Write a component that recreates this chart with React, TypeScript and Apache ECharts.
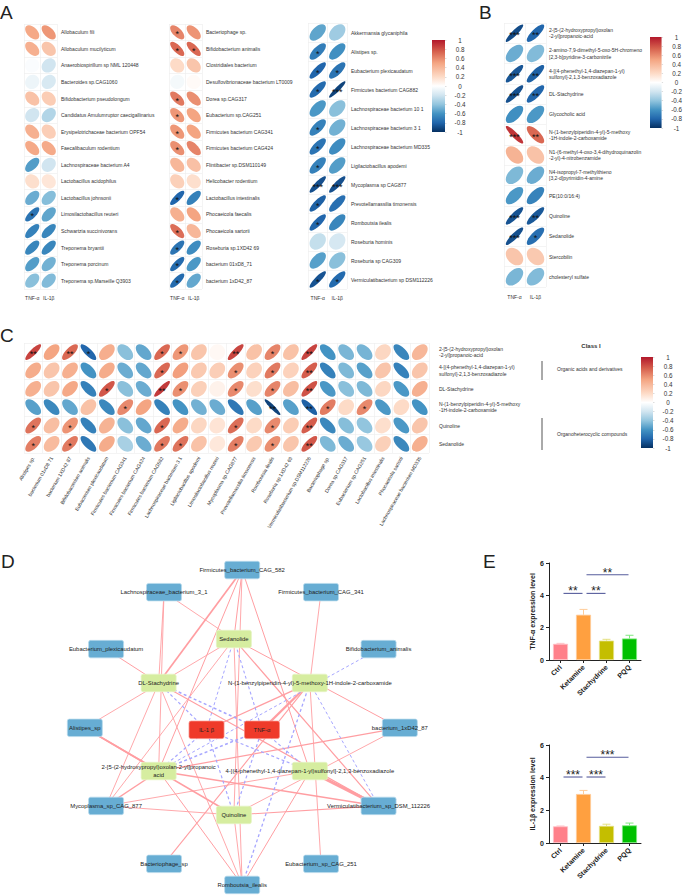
import React, { useEffect, useRef } from "react";
import * as echarts from "echarts";

const FONT = "Liberation Sans";

// ---------- Panel A ----------
const cytokines = ["TNF-α", "IL-1β"];
const a1Names = ["Allobaculum fili", "Allobaculum mucilyticum", "Anaerobiospirillum sp NML 120448", "Bacteroides sp.CAG1060", "Bifidobacterium pseudolongum", "Candidatus Amulumruptor caecigallinarius", "Erysipelotrichaceae bacterium OPF54", "Faecalibaculum rodentium", "Lachnospiraceae bacterium A4", "Lactobacillus acidophilus", "Lactobacillus johnsonii", "Limosilactobacillus reuteri", "Schwartzia succinivorans", "Treponema bryantii", "Treponema porcinum", "Treponema sp.Marseille Q3903"];
const a1Tnf = [0.48, 0.44, -0.02, -0.08, 0.34, -0.2, 0.44, 0.48, -0.56, 0.18, -0.5, -0.74, -0.68, -0.66, -0.56, -0.42];
const a1Il = [0.55, 0.32, -0.2, -0.17, 0.28, -0.3, 0.27, 0.47, -0.2, 0.14, -0.43, -0.53, -0.66, -0.66, -0.48, -0.44];
const a1TnfStars = [0, 0, 0, 0, 0, 0, 0, 0, 0, 0, 0, 1, 0, 0, 0, 0];
const a1IlStars = [0, 0, 0, 0, 0, 0, 0, 0, 0, 0, 0, 0, 0, 0, 0, 0];

const a2Names = ["Bacteriophage sp.", "Bifidobacterium animalis", "Clostridiales bacterium", "Desulfovibrionaceae bacterium LT0009", "Dorea sp.CAG317", "Eubacterium sp.CAG251", "Firmicutes bacterium CAG341", "Firmicutes bacterium CAG424", "Flintibacter sp.DSM110149", "Helicobacter rodentium", "Lactobacillus intestinalis", "Phocaeicola faecalis", "Phocaeicola sartorii", "Roseburia sp.1XD42 69", "bacterium 01xD8_71", "bacterium 1xD42_87"];
const a2Tnf = [0.62, 0.72, 0.2, -0.05, 0.66, 0.55, 0.55, 0.58, 0.4, 0.26, -0.8, 0.44, 0.7, -0.74, -0.78, -0.78];
const a2Il = [0.56, 0.72, 0.32, 0.03, 0.58, 0.5, 0.5, 0.62, 0.35, 0.18, -0.68, 0.5, 0.4, -0.63, -0.58, -0.52];
const a2TnfStars = [1, 1, 0, 0, 1, 1, 1, 1, 0, 0, 1, 0, 1, 1, 1, 1];
const a2IlStars = [0, 1, 0, 0, 0, 0, 0, 0, 0, 0, 0, 0, 0, 0, 0, 0];

const a3Names = ["Akkermansia glycaniphila", "Alistipes sp.", "Eubacterium plexicaudatum", "Firmicutes bacterium CAG882", "Lachnospiraceae bacterium 10 1", "Lachnospiraceae bacterium 3 1", "Lachnospiraceae bacterium MD335", "Ligilactobacillus apodemi", "Mycoplasma sp CAG877", "Prevotellamassilia timonensis", "Romboutsia ilealis", "Roseburia hominis", "Roseburia sp CAG309", "Vermiculatibacterium sp DSM112226"];
const a3Tnf = [-0.53, -0.7, -0.8, -0.78, -0.58, -0.68, -0.74, -0.68, -0.88, -0.82, -0.8, -0.24, -0.55, -0.87];
const a3Il = [-0.36, -0.62, -0.74, -0.93, -0.42, -0.48, -0.63, -0.56, -0.88, -0.76, -0.66, -0.18, -0.42, -0.78];
const a3TnfStars = [0, 1, 1, 1, 0, 1, 1, 1, 3, 1, 1, 0, 0, 1];
const a3IlStars = [0, 0, 1, 3, 0, 0, 0, 0, 3, 0, 0, 0, 0, 1];

// ---------- Panel B ----------
const bNames = ["2-[5-(2-hydroxypropyl)oxolan\n-2-yl]propanoic-acid", "2-amino-7,9-dimethyl-5-oxo-5H-chromeno\n[2,3-b]pyridine-3-carbonitrile", "4-[(4-phenethyl-1,4-diazepan-1-yl)\nsulfonyl]-2,1,3-benzoxadiazole", "DL-Stachydrine", "Glycocholic acid", "N-(1-benzylpiperidin-4-yl)-5-methoxy\n-1H-indole-2-carboxamide", "N1-(6-methyl-4-oxo-3,4-dihydroquinazolin\n-2-yl)-4-nitrobenzamide", "N4-isopropyl-7-methylthieno\n[3,2-d]pyrimidin-4-amine", "PE(10:0/16:4)", "Quinoline", "Sedanolide", "Stercobilin", "cholesteryl sulfate"];
const bTnf = [-0.9, -0.5, -0.86, -0.88, -0.62, 0.9, 0.42, -0.45, -0.58, -0.87, -0.88, 0.32, -0.46];
const bIl = [-0.8, -0.44, -0.82, -0.8, -0.58, 0.72, 0.34, -0.5, -0.67, -0.85, -0.76, 0.3, -0.44];
const bTnfStars = [3, 0, 3, 3, 0, 3, 0, 0, 0, 3, 3, 0, 0];
const bIlStars = [2, 0, 2, 2, 0, 2, 0, 0, 0, 2, 1, 0, 0];

// ---------- Panel C ----------
const cCols = ["Alistipes sp.", "bacterium 01xD8 71", "bacterium 1XD42 87", "Bifidobacterium animalis", "Eubacterium plexicaudatum", "Firmicutes bacterium CAG341", "Firmicutes bacterium CAG424", "Firmicutes bacterium CAG582", "Lachnospiraceae bacterium 3 1", "Ligilactobacillus apodemi", "Limosilactobacillus reuteri", "Mycoplasma sp.CAG877", "Prevotellamassilia timonensis", "Romboutsia ilealis", "Roseburia sp.1XD42 69", "Vermiculatibacterium sp.DSM112226", "Bacteriophage sp.", "Dorea sp.CAG317", "Eubacterium sp.CAG251", "Lactobacillus intestinalis", "Phocaeicola sartorii", "Lachnospiraceae bacterium MD335"];
const cRows = ["2-[5-(2-hydroxypropyl)oxolan\n-2-yl]propanoic-acid", "4-[(4-phenethyl-1,4-diazepan-1-yl)\nsulfonyl]-2,1,3-benzoxadiazole", "DL-Stachydrine", "N-(1-benzylpiperidin-4-yl)-5-methoxy\n-1H-indole-2-carboxamide", "Quinoline", "Sedanolide"];
const cRow1 = [0.85, 0.5, 0.72, -0.8, 0.45, -0.42, -0.52, 0.72, 0.55, 0.32, 0.04, 0.84, 0.34, 0.62, 0.34, 0.85, -0.6, -0.46, -0.47, 0.22, -0.66, 0.4];
const cRow2 = [0.46, 0.32, 0.44, -0.6, 0.46, -0.5, -0.52, 0.72, 0.52, 0.3, 0.27, 0.58, 0.25, 0.66, 0.25, 0.76, -0.68, -0.45, -0.55, 0.32, -0.68, 0.32];
const cRow3 = [0.44, 0.32, 0.48, -0.68, 0.78, -0.42, -0.5, 0.88, 0.58, 0.26, 0.07, 0.6, 0.18, 0.62, 0.36, 0.8, -0.58, -0.42, -0.45, 0.22, -0.58, 0.44];
const cRow4 = [-0.55, -0.65, -0.52, 0.34, -0.65, 0.6, 0.5, -0.68, -0.6, -0.48, -0.5, -0.72, -0.55, -0.93, -0.55, -0.82, 0.65, 0.2, 0.6, -0.58, 0.2, -0.6];
const cRow5 = [0.68, 0.36, 0.56, -0.68, 0.42, -0.42, -0.52, 0.72, 0.46, 0.22, 0.15, 0.7, 0.2, 0.6, 0.28, 0.76, -0.65, -0.43, -0.4, 0.18, -0.58, 0.32];
const cRow6 = [0.64, 0.38, 0.66, -0.72, 0.46, -0.33, -0.5, 0.66, 0.68, 0.34, 0.13, 0.64, 0.3, 0.58, 0.32, 0.78, -0.45, -0.5, -0.38, 0.26, -0.65, 0.44];
const cStars1 = [2, 0, 2, 1, 0, 0, 0, 1, 1, 0, 0, 2, 0, 1, 0, 2, 0, 0, 0, 0, 0, 0];
const cStars2 = [0, 0, 0, 0, 0, 0, 0, 1, 0, 0, 0, 1, 0, 1, 0, 2, 0, 0, 0, 0, 0, 0];
const cStars3 = [0, 0, 0, 0, 1, 0, 0, 2, 1, 0, 0, 1, 0, 1, 0, 2, 0, 0, 0, 0, 0, 0];
const cStars4 = [0, 0, 0, 0, 0, 1, 0, 0, 0, 0, 0, 0, 0, 2, 0, 2, 1, 0, 1, 0, 0, 0];
const cStars5 = [1, 0, 1, 0, 0, 0, 0, 1, 0, 0, 0, 1, 0, 1, 0, 2, 0, 0, 0, 0, 0, 0];
const cStars6 = [1, 0, 1, 0, 0, 0, 0, 1, 1, 0, 0, 1, 0, 1, 0, 2, 0, 0, 0, 0, 0, 0];

// ---------- Panel D ----------
const metaboliteNames = ["Sedanolide", "DL-Stachydrine", "N-(1-benzylpiperidin-4-yl)-5-methoxy-1H-indole-2-carboxamide", "2-[5-(2-hydroxypropyl)oxolan-2-yl]propanoic\nacid", "4-[(4-phenethyl-1,4-diazepan-1-yl)sulfonyl]-2,1,3-benzoxadiazole", "Quinoline"];
const metaboliteX = [48.3, 27.4, 69.4, 27.4, 69.4, 48.3];
const metaboliteY = [23.6, 36.7, 36.7, 63, 63, 76.1];
const bacteriaNames = ["Firmicutes_bacterium_CAG_582", "Lachnospiraceae_bacterium_3_1", "Firmicutes_bacterium_CAG_341", "Eubacterium_plexicaudatum", "Bifidobacterium_animalis", "Alistipes_sp", "bacterium_1xD42_87", "Mycoplasma_sp_CAG_877", "Vermiculatibacterium_sp_DSM_112226", "Bacteriophage_sp", "Eubacterium_sp_CAG_251", "Romboutsia_ilealis"];
const bacteriaX = [50.6, 28.9, 72.5, 12.8, 88.5, 6.9, 94.4, 12.8, 88.5, 28.9, 72.5, 50.6];
const bacteriaY = [3, 9.6, 9.6, 26.6, 26.6, 50.1, 50.1, 73.4, 73.4, 90.7, 90.7, 97];
const cytokineNames = ["IL-1 β", "TNF-α"];
const cytokineX = [40.7, 56.1];
const cytokineY = [50.7, 50.7];
// [metabolite index, partner name, weight]
const positiveEdges: [number, string, number][] = [
  [3, "Alistipes_sp", 1.8], [3, "bacterium_1xD42_87", 1.2], [3, "Firmicutes_bacterium_CAG_582", 1], [3, "Lachnospiraceae_bacterium_3_1", 0.9], [3, "Mycoplasma_sp_CAG_877", 1.3], [3, "Romboutsia_ilealis", 1], [3, "Vermiculatibacterium_sp_DSM_112226", 1.5],
  [4, "Firmicutes_bacterium_CAG_582", 1], [4, "Mycoplasma_sp_CAG_877", 0.9], [4, "Romboutsia_ilealis", 1], [4, "Vermiculatibacterium_sp_DSM_112226", 3],
  [1, "Eubacterium_plexicaudatum", 1], [1, "Firmicutes_bacterium_CAG_582", 1.7], [1, "Lachnospiraceae_bacterium_3_1", 0.9], [1, "Mycoplasma_sp_CAG_877", 0.9], [1, "Romboutsia_ilealis", 0.9], [1, "Vermiculatibacterium_sp_DSM_112226", 1.2],
  [2, "Firmicutes_bacterium_CAG_341", 0.9], [2, "Bacteriophage_sp", 1.1], [2, "Eubacterium_sp_CAG_251", 0.9],
  [5, "Alistipes_sp", 1.6], [5, "bacterium_1xD42_87", 0.9], [5, "Firmicutes_bacterium_CAG_582", 0.9], [5, "Mycoplasma_sp_CAG_877", 0.9], [5, "Romboutsia_ilealis", 0.9], [5, "Vermiculatibacterium_sp_DSM_112226", 1.1],
  [0, "Alistipes_sp", 0.9], [0, "bacterium_1xD42_87", 1], [0, "Firmicutes_bacterium_CAG_582", 1], [0, "Lachnospiraceae_bacterium_3_1", 0.9], [0, "Mycoplasma_sp_CAG_877", 0.9], [0, "Romboutsia_ilealis", 0.9], [0, "Vermiculatibacterium_sp_DSM_112226", 1.2],
  [2, "IL-1 β", 1.3], [2, "TNF-α", 2.2],
];
const negativeEdges: [number, string, number][] = [
  [3, "Bifidobacterium_animalis", 1], [2, "Romboutsia_ilealis", 1.3], [2, "Vermiculatibacterium_sp_DSM_112226", 1],
  [0, "IL-1 β", 1], [0, "TNF-α", 1.1], [1, "IL-1 β", 1.2], [1, "TNF-α", 1.5], [3, "IL-1 β", 1.2], [3, "TNF-α", 1.5], [4, "IL-1 β", 1.2], [4, "TNF-α", 1.1], [5, "IL-1 β", 1.2], [5, "TNF-α", 1.2],
];

// ---------- Panel E ----------
const groups = ["Ctrl", "Ketamine", "Stachydrine", "PQQ"];
const barColors = ["#FF808A", "#FFA040", "#C4BE00", "#00C000"];
const barEdgeColors = ["#FFC0C6", "#FFCC99", "#E4E080", "#80E880"];
const tnfMean = [1.0, 2.8, 1.2, 1.33];
const tnfUpper = [1.03, 3.13, 1.28, 1.53];
const ilMean = [1.02, 3.0, 1.05, 1.08];
const ilUpper = [1.04, 3.22, 1.15, 1.22];
// [from group, to group, value, stars]
const tnfBrackets: [number, number, number, string][] = [[0, 1, 4.12, "**"], [1, 2, 4.12, "**"], [1, 3, 5.27, "**"]];
const ilBrackets: [number, number, number, string][] = [[0, 1, 4.04, "***"], [1, 2, 4.04, "***"], [1, 3, 5.25, "***"]];

const colorStops: [number, string][] = [[-1, "#053061"], [-0.8, "#2166AC"], [-0.6, "#4393C3"], [-0.4, "#92C5DE"], [-0.2, "#D1E5F0"], [0, "#FFFFFF"], [0.2, "#FDDBC7"], [0.5, "#F4A582"], [0.75, "#D6604D"], [1, "#B2182B"]];

const NODE_SYMBOL = "path://M2 0H33A2 2 0 0 1 35 2V15.5A2 2 0 0 1 33 17.5H2A2 2 0 0 1 0 15.5V2A2 2 0 0 1 2 0Z";

function hexToRgb(h: string) {
  return [parseInt(h.slice(1, 3), 16), parseInt(h.slice(3, 5), 16), parseInt(h.slice(5, 7), 16)];
}
function ramp(v: number) {
  for (let i = 1; i < colorStops.length; i++) {
    if (v <= colorStops[i][0]) {
      const [a, ca] = colorStops[i - 1];
      const [b, cb] = colorStops[i];
      const t = (v - a) / (b - a);
      const A = hexToRgb(ca), B = hexToRgb(cb);
      return `rgb(${A.map((x, k) => Math.round(x + (B[k] - x) * t)).join(",")})`;
    }
  }
  return colorStops[colorStops.length - 1][1];
}

function buildOption() {
  const grid: any[] = [], xAxis: any[] = [], yAxis: any[] = [], series: any[] = [];
  const add = (g: any, x: any, y: any) => {
    grid.push({ ...g, containLabel: false });
    xAxis.push({ gridIndex: grid.length - 1, ...x });
    yAxis.push({ gridIndex: grid.length - 1, ...y });
    return grid.length - 1;
  };

  const corr = (box: number[], cols: string[], rows: string[], colVals: number[][], colStars: number[][], opts: any) => {
    const split = { show: true, interval: 0, lineStyle: { color: "#EDEDED", width: 0.6 } };
    const idx = add(
      { left: box[0], top: box[1], width: box[2], height: box[3] },
      { type: "category", data: cols, axisLine: { show: false }, axisTick: { show: false }, splitLine: split, axisLabel: { interval: 0, fontFamily: FONT, fontSize: 5, color: "#333", margin: opts.xMargin, rotate: opts.xRotate || 0 } },
      { type: "category", inverse: true, position: "right", data: rows, axisLine: { show: false }, axisTick: { show: false }, splitLine: split, axisLabel: { interval: 0, fontFamily: FONT, fontSize: 5, color: "#333", margin: opts.yMargin, lineHeight: 6.4 } }
    );
    const data: number[][] = [];
    colVals.forEach((vals, c) => vals.forEach((v, r) => data.push([c, r, v, colStars[c][r]])));
    series.push({
      type: "custom",
      xAxisIndex: idx,
      yAxisIndex: idx,
      clip: false,
      silent: true,
      encode: { x: 0, y: 1 },
      data,
      renderItem: (_: any, api: any) => {
        const p = api.coord([api.value(0), api.value(1)]);
        const size = api.size([1, 1]);
        const cell = Math.min(size[0], size[1]);
        const r = api.value(2);
        const m = Math.abs(r);
        const rx = cell * 0.43 * Math.sqrt(1 + m);
        const ry = cell * 0.43 * Math.sqrt(1 - m);
        const sign = (r > 0 ? -1 : 1) * opts.dir;
        const children: any[] = [
          { type: "ellipse", x: p[0], y: p[1], rotation: (sign * Math.PI) / 4, shape: { cx: 0, cy: 0, rx, ry }, style: { fill: ramp(r) } },
        ];
        const n = api.value(3);
        if (n > 0) {
          children.push({ type: "text", x: p[0], y: p[1] + 2, style: { text: "*".repeat(n), fontSize: 9, fontFamily: FONT, fill: "#111", align: "center", verticalAlign: "middle" } });
        }
        return { type: "group", children };
      },
    });
  };

  corr([24, 24, 33, 265], cytokines, a1Names, [a1Tnf, a1Il], [a1TnfStars, a1IlStars], { dir: 1, xMargin: 6, yMargin: 4 });
  corr([169, 24, 33, 265], cytokines, a2Names, [a2Tnf, a2Il], [a2TnfStars, a2IlStars], { dir: 1, xMargin: 6, yMargin: 4 });
  corr([308, 23, 39, 266], cytokines, a3Names, [a3Tnf, a3Il], [a3TnfStars, a3IlStars], { dir: 1, xMargin: 6, yMargin: 4 });
  corr([504, 23, 42, 264], cytokines, bNames, [bTnf, bIl], [bTnfStars, bIlStars], { dir: 1, xMargin: 7, yMargin: 3 });

  const cVals = cCols.map((_, c) => [cRow1[c], cRow2[c], cRow3[c], cRow4[c], cRow5[c], cRow6[c]]);
  const cStars = cCols.map((_, c) => [cStars1[c], cStars2[c], cStars3[c], cStars4[c], cStars5[c], cStars6[c]]);
  corr([24, 343, 405, 110], cCols, cRows, cVals, cStars, { dir: -1, xMargin: 4, xRotate: 60, yMargin: 10 });

  // colour bars
  const colorbar = (box: number[]) => {
    const idx = add(
      { left: box[0], top: box[1], width: box[2], height: box[3] },
      { type: "category", data: [""], show: false },
      { type: "value", position: "right", min: -1, max: 1, interval: 0.2, splitLine: { show: false }, axisLine: { show: false }, axisTick: { show: true, length: 1.5, lineStyle: { color: "#bbb", width: 0.5 } }, axisLabel: { fontFamily: FONT, fontSize: 6.3, color: "#333", margin: 15, align: "center" } }
    );
    series.push({
      type: "custom",
      xAxisIndex: idx,
      yAxisIndex: idx,
      silent: true,
      data: [[0, 0]],
      renderItem: (params: any) => {
        const c = params.coordSys;
        const stops = [...colorStops].reverse().map(([v, color]) => ({ offset: (1 - v) / 2, color }));
        return { type: "rect", shape: { x: c.x, y: c.y, width: c.width, height: c.height }, style: { fill: new echarts.graphic.LinearGradient(0, 0, 0, 1, stops) } };
      },
    });
  };
  colorbar([432, 40, 13, 92]);
  colorbar([650, 37, 13, 91]);
  colorbar([641, 357, 12, 91]);

  // network
  const netIdx = add(
    { left: 60, top: 560, width: 360, height: 335 },
    { type: "value", min: 0, max: 100, show: false },
    { type: "value", min: 0, max: 100, inverse: true, show: false }
  );
  const nodeLabel = { show: true, position: "inside", fontFamily: FONT, fontSize: 5.9, color: "#222", lineHeight: 8 };
  const nodes = [
    ...bacteriaNames.map((name, i) => ({ name, value: [bacteriaX[i], bacteriaY[i]], itemStyle: { color: "#67ADD3", borderColor: "#B9DAEC", borderWidth: 0.7 }, label: nodeLabel })),
    ...metaboliteNames.map((name, i) => ({ name, value: [metaboliteX[i], metaboliteY[i]], itemStyle: { color: "#D6EDA0", borderColor: "#E6F4C4", borderWidth: 0.7 }, label: nodeLabel })),
    ...cytokineNames.map((name, i) => ({ name, value: [cytokineX[i], cytokineY[i]], itemStyle: { color: "#EF3A2A", borderColor: "#F78A80", borderWidth: 0.7 }, label: nodeLabel })),
  ];
  series.push({
    type: "graph",
    coordinateSystem: "cartesian2d",
    xAxisIndex: netIdx,
    yAxisIndex: netIdx,
    silent: true,
    symbol: NODE_SYMBOL,
    symbolSize: [35, 17.5],
    symbolKeepAspect: false,
    data: nodes,
    links: [
      ...positiveEdges.map(([m, t, w]) => ({ source: metaboliteNames[m], target: t, lineStyle: { color: "#FF9EA2", width: w, type: "solid", opacity: 1 } })),
      ...negativeEdges.map(([m, t, w]) => ({ source: metaboliteNames[m], target: t, lineStyle: { color: "#A6A6FF", width: w, type: [3, 2.5], opacity: 1 } })),
    ],
  });

  // bar panels
  const barPanel = (box: number[], title: string, mean: number[], upper: number[], brackets: [number, number, number, string][]) => {
    const axisLine = { show: true, lineStyle: { color: "#222", width: 1 } };
    const idx = add(
      { left: box[0], top: box[1], width: box[2], height: box[3] },
      { type: "category", data: groups, axisLine, axisTick: { show: true, alignWithLabel: true, length: 3, lineStyle: { color: "#222", width: 1 } }, axisLabel: { interval: 0, rotate: 45, fontFamily: FONT, fontSize: 7, fontWeight: "bold", color: "#222", margin: 6 } },
      { type: "value", min: 0, max: 6, interval: 2, splitLine: { show: false }, axisLine, axisTick: { show: true, length: 3, lineStyle: { color: "#222", width: 1 } }, axisLabel: { fontFamily: FONT, fontSize: 7, fontWeight: "bold", color: "#222", margin: 5 }, name: title, nameLocation: "middle", nameGap: 13, nameRotate: 90, nameTextStyle: { fontFamily: FONT, fontSize: 7, fontWeight: "bold", color: "#222" } }
    );
    series.push({
      type: "custom",
      xAxisIndex: idx,
      yAxisIndex: idx,
      silent: true,
      encode: { x: 0, y: [1, 2] },
      data: mean.map((m, i) => [i, m, upper[i]]),
      renderItem: (_: any, api: any) => {
        const i = api.value(0);
        const a = api.coord([i, api.value(1)]);
        const b = api.coord([i, api.value(2)]);
        const style = { stroke: barEdgeColors[i], lineWidth: 1, fill: "none" };
        return {
          type: "group",
          children: [
            { type: "line", shape: { x1: a[0], y1: a[1], x2: b[0], y2: b[1] }, style },
            { type: "line", shape: { x1: b[0] - 4, y1: b[1], x2: b[0] + 4, y2: b[1] }, style },
          ],
        };
      },
    });
    series.push({
      type: "bar",
      xAxisIndex: idx,
      yAxisIndex: idx,
      silent: true,
      barWidth: 15,
      data: mean.map((v, i) => ({ value: v, itemStyle: { color: barColors[i], borderColor: barEdgeColors[i], borderWidth: 0.8 } })),
    });
    series.push({
      type: "custom",
      xAxisIndex: idx,
      yAxisIndex: idx,
      silent: true,
      clip: false,
      encode: { x: 0, y: 2 },
      data: brackets.map((b) => [b[0], b[1], b[2], b[3]]),
      renderItem: (_: any, api: any) => {
        const a = api.coord([api.value(0), api.value(2)]);
        const b = api.coord([api.value(1), api.value(2)]);
        const x1 = a[0] + 3, x2 = b[0] - 1;
        return {
          type: "group",
          children: [
            { type: "line", shape: { x1, y1: a[1], x2, y2: a[1] }, style: { stroke: "#565C9C", lineWidth: 1.1 } },
            { type: "text", x: (x1 + x2) / 2, y: a[1] - 2, style: { text: api.value(3), fontFamily: FONT, fontSize: 12, fill: "#222", align: "center", verticalAlign: "middle" } },
          ],
        };
      },
    });
  };
  barPanel([549, 563, 92, 97], "TNF-α expression level", tnfMean, tnfUpper, tnfBrackets);
  barPanel([549, 745, 92, 98], "IL-1β expression level", ilMean, ilUpper, ilBrackets);

  const letter = (text: string, x: number, y: number) => ({ type: "text", x, y, style: { text, fontFamily: FONT, fontSize: 19, fill: "#222", align: "left", verticalAlign: "top" } });
  const note = (text: string, x: number, y: number, extra: any = {}) => ({ type: "text", x, y, style: { text, fontFamily: FONT, fontSize: 5, fill: "#333", align: "left", verticalAlign: "middle", ...extra } });
  const graphic = [
    letter("A", 0, 3),
    letter("B", 479, 3),
    letter("C", 0, 326),
    letter("D", 1, 552),
    letter("E", 483, 552),
    note("Class I", 591, 346, { align: "center", fontWeight: "bold", fontSize: 6 }),
    note("Organic acids and derivatives", 557, 369),
    note("Organoheterocyclic compounds", 557, 434),
    { type: "line", shape: { x1: 542, y1: 361, x2: 542, y2: 380 }, style: { stroke: "#555", lineWidth: 1 } },
    { type: "line", shape: { x1: 542, y1: 418, x2: 542, y2: 450 }, style: { stroke: "#555", lineWidth: 1 } },
  ];

  return { animation: false, backgroundColor: "#fff", grid, xAxis, yAxis, series, graphic };
}

export default function App() {
  const ref = useRef<HTMLDivElement>(null);
  useEffect(() => {
    const chart = echarts.init(ref.current!, undefined, { renderer: "svg" });
    chart.setOption(buildOption() as any);
    return () => chart.dispose();
  }, []);
  return <div ref={ref} style={{ position: "absolute", left: 0, top: 0, width: 685, height: 895 }} />;
}
